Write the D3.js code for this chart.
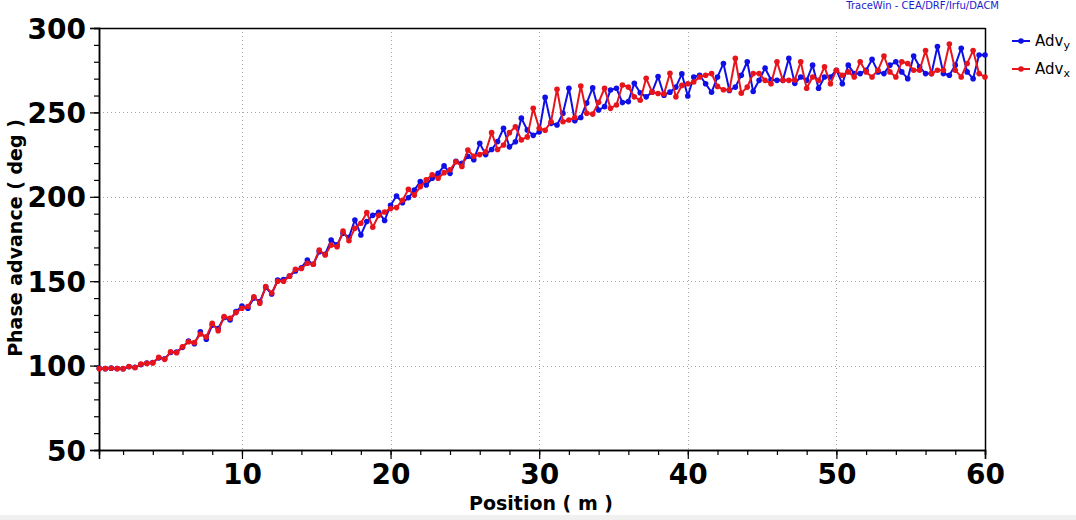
<!DOCTYPE html>
<html><head><meta charset="utf-8">
<script src="https://cdn.jsdelivr.net/npm/d3@7"></script>
<style>
html,body{margin:0;padding:0;background:#fff;}
svg{display:block;}
</style></head>
<body>
<svg id="chart" width="1076" height="520"></svg>
<script>
// Position along the linac (m)
const positions = [
 0.4,0.8,1.2,1.6,2,2.4,2.8,3.2,3.6,4,
 4.4,4.8,5.2,5.6,6,6.4,6.8,7.2,7.6,8,
 8.4,8.8,9.2,9.6,10,10.4,10.8,11.2,11.6,12,
 12.4,12.8,13.2,13.6,14,14.4,14.8,15.2,15.6,16,
 16.4,16.8,17.2,17.6,18,18.4,18.8,19.2,19.6,20,
 20.4,20.8,21.2,21.6,22,22.4,22.8,23.2,23.6,24,
 24.4,24.8,25.2,25.6,26,26.4,26.8,27.2,27.6,28,
 28.4,28.8,29.2,29.6,30,30.4,30.8,31.2,31.6,32,
 32.4,32.8,33.2,33.6,34,34.4,34.8,35.2,35.6,36,
 36.4,36.8,37.2,37.6,38,38.4,38.8,39.2,39.6,40,
 40.4,40.8,41.2,41.6,42,42.4,42.8,43.2,43.6,44,
 44.4,44.8,45.2,45.6,46,46.4,46.8,47.2,47.6,48,
 48.4,48.8,49.2,49.6,50,50.4,50.8,51.2,51.6,52,
 52.4,52.8,53.2,53.6,54,54.4,54.8,55.2,55.6,56,
 56.4,56.8,57.2,57.6,58,58.4,58.8,59.2,59.6,60
];
// Adv_y (deg), blue
const advY = [
 98.4,98.2,98.5,98.3,98.1,99.3,99.0,100.6,101.5,101.8,
 104.5,104.0,107.8,108.0,110.8,114.5,113.0,120.0,115.6,124.0,
 122.0,128.5,127.0,132.0,135.3,134.0,140.0,137.9,146.4,142.4,
 150.7,151.0,153.0,156.0,158.0,162.6,160.0,167.5,166.0,174.4,
 171.5,178.4,176.0,186.3,177.4,185.3,189.0,190.8,186.0,195.0,
 200.5,196.5,199.4,204.0,209.0,207.0,211.0,213.9,218.3,213.9,
 221.0,219.8,224.0,222.0,231.7,225.0,228.0,232.7,240.6,229.6,
 232.6,246.6,239.6,236.4,238.4,258.9,243.5,242.5,249.5,264.3,
 245.0,247.0,255.6,264.5,251.4,253.4,263.3,264.3,255.8,256.4,
 267.2,261.6,259.2,262.0,271.2,260.2,262.0,265.0,272.8,259.7,
 271.0,272.0,267.0,261.9,271.0,279.0,263.0,265.0,272.0,280.0,
 262.4,269.0,276.2,269.3,269.0,269.0,282.0,267.2,271.0,269.0,
 278.0,264.3,271.0,271.0,275.0,267.0,278.0,273.0,273.0,275.0,
 281.4,274.0,273.0,278.0,280.0,274.0,270.0,283.4,277.0,273.0,
 273.0,289.0,273.0,272.0,278.0,288.0,274.0,270.0,284.0,284.0
];
// Adv_x (deg), red
const advX = [
 98.2,98.3,98.4,98.2,98.2,99.5,98.8,100.9,101.3,101.6,
 104.9,103.7,108.2,107.6,111.2,114.1,113.6,118.7,117.0,125.0,
 120.7,129.0,128.0,131.4,134.0,135.0,140.8,137.0,146.8,143.0,
 150.0,150.0,153.0,157.0,157.5,160.6,160.0,168.5,165.5,171.4,
 170.4,179.7,174.0,181.3,184.3,190.6,182.0,189.0,191.0,193.0,
 193.6,198.0,204.4,201.0,206.0,210.0,213.0,211.0,214.3,216.0,
 220.8,218.0,227.7,224.0,225.0,226.7,238.0,228.0,230.7,238.0,
 241.5,233.7,235.5,252.4,240.6,239.4,244.5,263.7,244.5,245.5,
 247.0,265.6,249.5,249.0,256.0,264.3,252.4,254.4,266.2,265.0,
 259.2,257.2,270.2,262.0,261.2,261.0,273.2,259.2,266.0,267.0,
 268.0,271.0,272.0,273.0,265.4,263.4,263.4,282.0,261.4,265.0,
 273.0,273.0,269.0,267.0,280.0,269.0,269.0,269.2,280.0,264.3,
 271.0,269.0,277.0,267.0,275.0,272.0,274.0,271.0,280.0,274.0,
 271.0,275.0,283.4,274.0,271.0,280.0,279.0,275.0,275.0,286.6,
 273.0,275.0,275.0,290.5,275.0,271.0,279.0,286.6,273.0,271.0
];
const xMajorTicks = [10,20,30,40,50,60];
const yMajorTicks = [50,100,150,200,250,300];
const seriesNames = ["y","x"];
const seriesColors = ["#0f0fe6","#e8141c"];

const svg = d3.select("#chart");
const W = 1076, H = 520;
const L = 99, R = 985, T = 28, B = 450;

svg.append("rect").attr("x",0).attr("y",0).attr("width",W).attr("height",H).attr("fill","#fff");
svg.append("rect").attr("x",0).attr("y",515).attr("width",W).attr("height",5).attr("fill","#f0f0f0");

const x = d3.scaleLinear().domain([0.38, 60]).range([L, R]);
const y = d3.scaleLinear().domain([50, 300]).range([B, T]);

const xMinor = d3.range(2, 60.1, 2);
const yMinor = d3.range(50, 300.1, 10);

// grid
const grid = svg.append("g").attr("stroke","#a8a8a8").attr("stroke-width",1).attr("stroke-dasharray","1,3");
grid.selectAll(".gx").data(xMajorTicks.filter(d=>d<60)).join("line")
  .attr("x1",d=>Math.round(x(d))+0.5).attr("x2",d=>Math.round(x(d))+0.5).attr("y1",T).attr("y2",B);
grid.selectAll(".gy").data(yMajorTicks.filter(d=>d>50)).join("line")
  .attr("y1",d=>Math.round(y(d))+0.5).attr("y2",d=>Math.round(y(d))+0.5).attr("x1",L).attr("x2",R);

// frame top/right
svg.append("line").attr("x1",L).attr("x2",R+0.5).attr("y1",T+0.5).attr("y2",T+0.5).attr("stroke","#000").attr("stroke-width",1.5);
svg.append("line").attr("x1",R+0.5).attr("x2",R+0.5).attr("y1",T).attr("y2",B).attr("stroke","#000").attr("stroke-width",1.5);

// axes
const xAxisMinor = d3.axisBottom(x).tickValues(xMinor).tickSize(5).tickFormat("");
const xAxisMajor = d3.axisBottom(x).tickValues(xMajorTicks).tickSize(9).tickPadding(5);
const yAxisMinor = d3.axisLeft(y).tickValues(yMinor).tickSize(5).tickFormat("");
const yAxisMajor = d3.axisLeft(y).tickValues(yMajorTicks).tickSize(9).tickPadding(4);

function styleAxis(g){
  g.selectAll("path").attr("stroke","#000").attr("stroke-width",1.5);
  g.selectAll("line").attr("stroke","#000").attr("stroke-width",1.2);
  g.selectAll("text").attr("font-family","'DejaVu Sans', sans-serif").attr("font-weight","bold")
   .attr("font-size",28).attr("fill","#000");
}
svg.append("g").attr("transform",`translate(0,${B})`).call(xAxisMinor).call(styleAxis);
svg.append("g").attr("transform",`translate(0,${B})`).call(xAxisMajor).call(styleAxis);
svg.append("g").attr("transform",`translate(${L},0)`).call(yAxisMinor).call(styleAxis);
svg.append("g").attr("transform",`translate(${L},0)`).call(yAxisMajor).call(styleAxis)
  .selectAll("text").attr("dy","0.36em");

// axis titles
svg.append("text").attr("x",541).attr("y",510).attr("text-anchor","middle")
  .attr("font-family","'DejaVu Sans', sans-serif").attr("font-weight","bold").attr("font-size",19)
  .text("Position ( m )");
svg.append("text").attr("transform","translate(22,238) rotate(-90)").attr("text-anchor","middle")
  .attr("font-family","'DejaVu Sans', sans-serif").attr("font-weight","bold").attr("font-size",19)
  .text("Phase advance ( deg )");

// credit
svg.append("text").attr("x",999).attr("y",9).attr("text-anchor","end")
  .attr("font-family","'DejaVu Sans', sans-serif").attr("font-size",10).attr("fill","#1c1ccc")
  .text("TraceWin - CEA/DRF/Irfu/DACM");

// data
const series = [
  {name: seriesNames[0], color: seriesColors[0], values: advY},
  {name: seriesNames[1], color: seriesColors[1], values: advX}
];
const line = d3.line().x((d,i)=>x(positions[i])).y(d=>y(d));
const plot = svg.append("g");
series.forEach(s=>{
  plot.append("path").datum(s.values).attr("d",line).attr("fill","none")
    .attr("stroke",s.color).attr("stroke-width",2).attr("stroke-linejoin","round");
  plot.selectAll(null).data(s.values).join("circle")
    .attr("cx",(d,i)=>x(positions[i])).attr("cy",d=>y(d)).attr("r",2.8).attr("fill",s.color);
});

// legend
const lg = svg.append("g");
series.forEach((s,k)=>{
  const yy = 41 + k*28;
  lg.append("line").attr("x1",1012).attr("x2",1030).attr("y1",yy).attr("y2",yy)
    .attr("stroke",s.color).attr("stroke-width",2);
  lg.append("circle").attr("cx",1021).attr("cy",yy).attr("r",2.8).attr("fill",s.color);
  const t = lg.append("text").attr("x",1035).attr("y",yy+5)
    .attr("font-family","'DejaVu Sans', sans-serif").attr("font-size",15).attr("fill","#000");
  t.append("tspan").text("Adv");
  t.append("tspan").attr("font-size",11).attr("dy",3).text(s.name);
});
</script>
</body></html>
